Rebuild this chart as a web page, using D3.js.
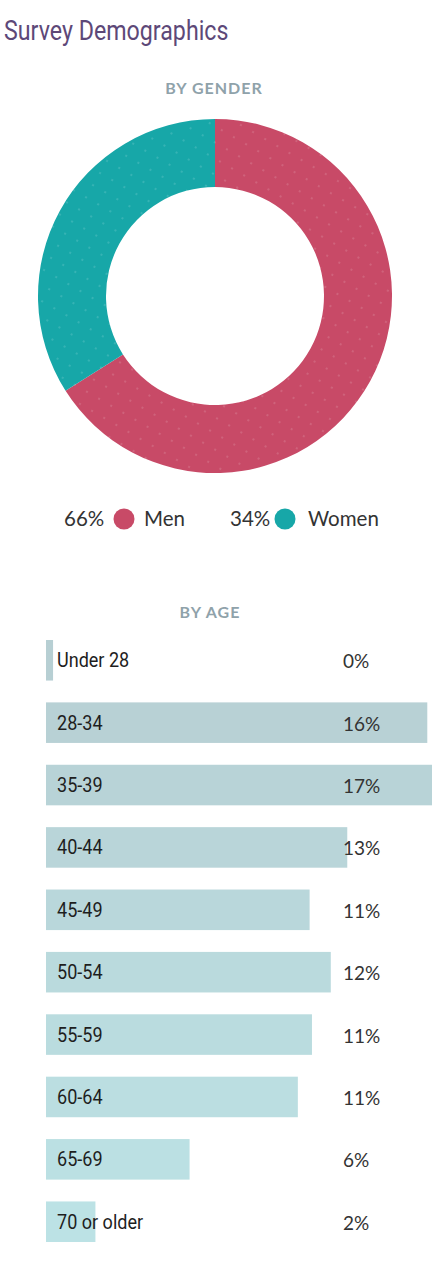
<!DOCTYPE html>
<html>
<head>
<meta charset="utf-8">
<script src="https://cdn.jsdelivr.net/npm/d3@7"></script>
<style>
  body { margin: 0; background: #fff; }
  svg { display: block; }
</style>
</head>
<body>
<div id="chart"></div>
<script>
// gender split
const genderLabels = ["Men", "Women"];
const genderValues = [66, 34];
const genderColors = ["#c84a67", "#17a7a8"];

// age breakdown
const ageGroups = ["Under 28", "28-34", "35-39", "40-44", "45-49", "50-54", "55-59", "60-64", "65-69", "70 or older"];
const ageValues = [0.3, 16.2, 17.5, 12.8, 11.2, 12.1, 11.3, 10.7, 6.1, 2.1];
const ageLabels = ["0%", "16%", "17%", "13%", "11%", "12%", "11%", "11%", "6%", "2%"];

const width = 432, height = 1280;
const condensed = "'Roboto', sans-serif";
const body = "'Lato', 'Open Sans', sans-serif";

const svg = d3.select("#chart").append("svg")
    .attr("width", width)
    .attr("height", height);

// faint dot texture used on the donut
const defs = svg.append("defs");
genderColors.forEach((c, i) => {
    const p = defs.append("pattern")
        .attr("id", "dots" + i)
        .attr("patternUnits", "userSpaceOnUse")
        .attr("width", 14).attr("height", 14)
        .attr("patternTransform", "rotate(30)");
    p.append("rect").attr("width", 14).attr("height", 14).attr("fill", c);
    p.append("circle").attr("cx", 7).attr("cy", 7).attr("r", 0.8)
        .attr("fill", "#ffffff").attr("opacity", 0.3);
});

// title (roboto squeezed to look condensed)
svg.append("text")
    .attr("transform", "translate(4,40) scale(0.86,1)")
    .attr("font-family", condensed)
    .attr("font-size", 27)
    .attr("fill", "#5d4878")
    .text("Survey Demographics");

// section headings
function heading(txt, x, y) {
    svg.append("text")
        .attr("x", x).attr("y", y)
        .attr("text-anchor", "middle")
        .attr("font-family", body)
        .attr("font-weight", 700)
        .attr("font-size", 16)
        .attr("letter-spacing", 1)
        .attr("fill", "#8fa2aa")
        .text(txt);
}
heading("BY GENDER", 214, 94);
heading("BY AGE", 210, 618);

// --- donut ---
const cx = 215, cy = 296, rOuter = 177, rInner = 109;
const pie = d3.pie().sort(null).value(d => d);
const arc = d3.arc().innerRadius(rInner).outerRadius(rOuter);

svg.append("g")
    .attr("transform", `translate(${cx},${cy})`)
    .selectAll("path")
    .data(pie(genderValues))
    .join("path")
    .attr("d", arc)
    .attr("fill", (d, i) => `url(#dots${i})`);

// legend
const legendItems = [
    { pct: 64, dot: 124, name: 144 },
    { pct: 230, dot: 285, name: 308 }
];
const legendY = 519;
legendItems.forEach((pos, i) => {
    svg.append("text")
        .attr("x", pos.pct).attr("y", legendY + 7)
        .attr("font-family", body).attr("font-size", 20.5)
        .attr("fill", "#333")
        .text(genderValues[i] + "%");
    svg.append("circle")
        .attr("cx", pos.dot).attr("cy", legendY).attr("r", 10.5)
        .attr("fill", genderColors[i]);
    svg.append("text")
        .attr("x", pos.name).attr("y", legendY + 7)
        .attr("font-family", body).attr("font-size", 20.5)
        .attr("fill", "#333")
        .text(genderLabels[i]);
});

// --- bars ---
const x = d3.scaleLinear().domain([0, 16.4]).range([46, 432]);
const y = d3.scaleBand().domain(ageGroups).range([640, 1242]).paddingInner(0.35).paddingOuter(0);
const barColor = d3.scaleLinear().domain([0, ageGroups.length - 1]).range(["#b7cfd3", "#bce2e5"]);

const rows = svg.append("g").selectAll("g")
    .data(ageGroups)
    .join("g")
    .attr("transform", d => `translate(0,${y(d)})`);

rows.append("rect")
    .attr("x", x(0))
    .attr("width", (d, i) => x(ageValues[i]) - x(0))
    .attr("height", y.bandwidth())
    .attr("fill", (d, i) => barColor(i));

rows.append("text")
    .attr("transform", `translate(57,${y.bandwidth() / 2 + 7}) scale(0.88,1)`)
    .attr("font-family", condensed)
    .attr("font-size", 20.5)
    .attr("fill", "#1e1e1e")
    .text(d => d);

rows.append("text")
    .attr("x", 343)
    .attr("y", y.bandwidth() / 2 + 8)
    .attr("font-family", body)
    .attr("font-size", 19)
    .attr("fill", "#333")
    .text((d, i) => ageLabels[i]);
</script>
</body>
</html>
